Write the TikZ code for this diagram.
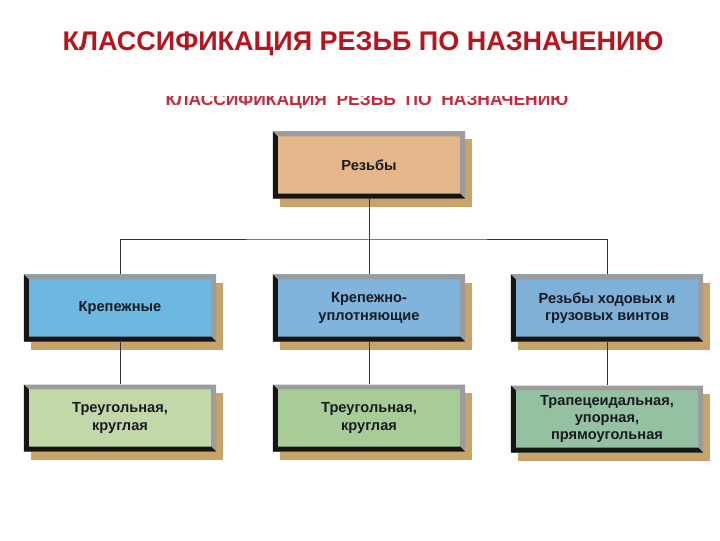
\documentclass[tikz,border=0pt]{standalone}
\usepackage{fontspec}
\setmainfont{Liberation Sans}
\usepackage{tikz}
\usetikzlibrary{positioning,shadows}
\definecolor{titlered}{HTML}{B8141E}
\definecolor{ghostred}{HTML}{C8283A}
\definecolor{shtan}{HTML}{C8A46A}
\definecolor{bevgray}{HTML}{9C9C9C}
\definecolor{bevdark}{HTML}{151515}
\definecolor{tanface}{HTML}{E4B78A}
\definecolor{blueA}{HTML}{6CB8E0}
\definecolor{blueB}{HTML}{80B4DC}
\definecolor{blueC}{HTML}{7EB0D8}
\definecolor{greenA}{HTML}{C3D8A9}
\definecolor{greenB}{HTML}{A8CC97}
\definecolor{greenC}{HTML}{93C1A2}
\definecolor{boxtext}{HTML}{1A1A22}
\def\bv{0.12cm}
\begin{document}
\begin{tikzpicture}[
  x=0.025cm, y=-0.025cm,
  box/.style={fill=#1, minimum width=4.8cm, minimum height=1.675cm,
    inner sep=2pt, align=center, text=boxtext,
    font=\fontsize{10.4}{12.4}\selectfont\bfseries,
    drop shadow={shadow xshift=0.18cm, shadow yshift=-0.2cm, fill=shtan, opacity=1},
    path picture={
      \fill[bevgray] (path picture bounding box.north west)
        -- (path picture bounding box.north east)
        -- (path picture bounding box.south east)
        -- ([shift={(-\bv,\bv)}]path picture bounding box.south east)
        -- ([shift={(-\bv,-\bv)}]path picture bounding box.north east)
        -- ([shift={(\bv,-\bv)}]path picture bounding box.north west) -- cycle;
      \fill[bevdark] (path picture bounding box.north west)
        -- (path picture bounding box.south west)
        -- (path picture bounding box.south east)
        -- ([shift={(-\bv,\bv)}]path picture bounding box.south east)
        -- ([shift={(\bv,\bv)}]path picture bounding box.south west)
        -- ([shift={(\bv,-\bv)}]path picture bounding box.north west) -- cycle;
    }},
  link/.style={draw=black!80, line width=0.6pt},
  heading/.style={anchor=base, font=\fontsize{19.2}{22}\selectfont\bfseries, text=titlered}
]
\useasboundingbox (0,0) rectangle (720,540);

% titles
\node[heading] (head) at (363,50) {КЛАССИФИКАЦИЯ РЕЗЬБ ПО НАЗНАЧЕНИЮ};
\begin{scope}
  \clip (0,96.5) rectangle (720,112);
  \node[heading, font=\fontsize{12.4}{14}\selectfont\bfseries, text=ghostred] (ghost)
    at (367,105) {КЛАССИФИКАЦИЯ\ \ РЕЗЬБ\ \ ПО\ \ НАЗНАЧЕНИЮ};
\end{scope}

% boxes
\node[box=tanface] (thr) at (369,165) {Резьбы};
\node[box=blueA] (fast) at (120,308) {Крепежные};
\node[box=blueB] (seal) at (369,308) {Крепежно-\\уплотняющие};
\node[box=blueC] (lead) at (607,308) {Резьбы ходовых и\\грузовых винтов};
\node[box=greenA] (tri1) at (120,418) {Треугольная,\\круглая};
\node[box=greenB] (tri2) at (369,418) {Треугольная,\\круглая};
\node[box=greenC] (trap) at (607,419) {Трапецеидальная,\\упорная,\\прямоугольная};

% connectors
\coordinate (bus) at (369,239);
\draw[link] (thr.south) -- (bus);
\draw[link] (fast.north) |- (bus) -| (lead.north);
\draw[link] (bus) -- (seal.north);
\foreach \a/\b in {fast/tri1, seal/tri2, lead/trap}
  \draw[link] (\a.south) -- (\b.north);
\end{tikzpicture}
\end{document}
